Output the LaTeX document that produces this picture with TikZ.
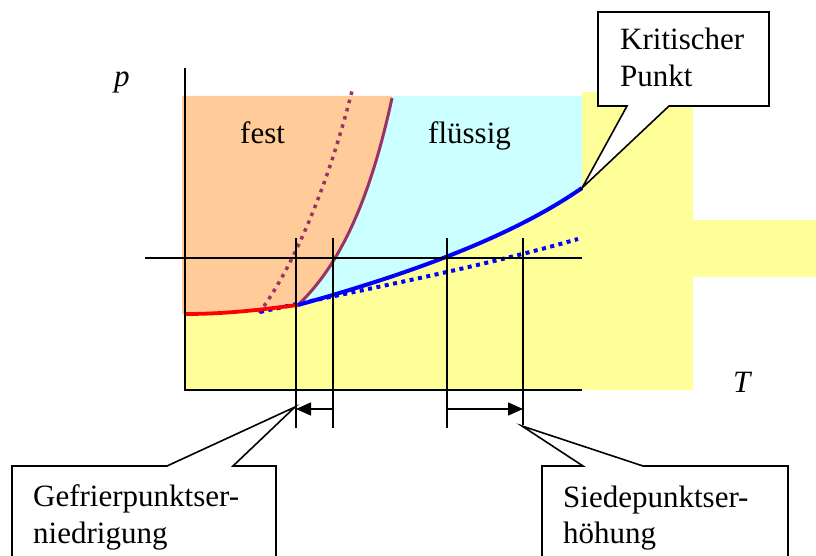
\documentclass[tikz,border=0pt]{standalone}
\usepackage{fontspec}
\setmainfont{Liberation Serif}
\usetikzlibrary{arrows.meta}
\definecolor{festc}{HTML}{FFCC99}
\definecolor{flc}{HTML}{CCFFFF}
\definecolor{gasc}{HTML}{FFFF99}
\definecolor{plum}{HTML}{993366}
\begin{document}
\begin{tikzpicture}[x=1pt,y=-1pt,
  txt/.style={inner sep=0pt,anchor=base west,font=\fontsize{31}{37}\selectfont},
  axis/.style={line width=1.8pt},
  thin/.style={line width=1.6pt},
  callout/.style={line width=1.6pt,fill=white,line join=miter},
  arr/.style={line width=1.6pt,-{Triangle[length=15pt,width=13pt]}},
  redc/.style={line width=3.8pt,red},
  bluec/.style={line width=4pt,blue},
  bluedot/.style={line width=4pt,blue,dash pattern=on 4pt off 4.5pt},
  plumc/.style={line width=3pt,plum},
  plumdot/.style={line width=3.5pt,plum,dash pattern=on 3.5pt off 5pt}]
\useasboundingbox (0,0) rectangle (816,556);
% key points
\coordinate (o) at (185,390);
\coordinate (ytop) at (185,68);
\coordinate (xend) at (582,390);
\coordinate (tp) at (298,305);
\coordinate (cp) at (582,188);
\coordinate (rs) at (185,314);
\coordinate (mt) at (392,98);
% regions
\fill[gasc] (582,92) rectangle (693,390);
\fill[gasc] (185,180) rectangle (582,390);
\fill[gasc] (693,220) rectangle (816,277);
\fill[festc] (182,96) -- (392,96) -- (mt) .. controls (370,200) and (340,265) .. (tp)
  .. controls (265,309) and (230,314) .. (rs) -- (182,314) -- cycle;
\fill[flc] (392,96) -- (582,96) -- (cp) .. controls (500,245) and (380,282) .. (tp)
  .. controls (340,265) and (370,200) .. (mt) -- cycle;
% dotted curves (solution)
\draw[plumdot] (259,313) .. controls (295,265) and (330,180) .. (353,87);
\draw[bluedot] (260,312) .. controls (350,292) and (470,270) .. (578,239);
% phase boundaries
\draw[redc] (rs) .. controls (230,314) and (265,309) .. (tp);
\draw[plumc] (tp) .. controls (340,265) and (370,200) .. (mt);
\draw[bluec] (tp) .. controls (380,282) and (500,245) .. (cp);
% axes
\draw[axis] (ytop) -- (o) -- (xend);
\node[txt,font=\fontsize{31}{37}\selectfont\itshape] (pl) at (114,87) {p};
\node[txt,font=\fontsize{31}{37}\selectfont\itshape] (tl) at (733,392) {T};
% reference lines
\coordinate (h1) at (145,258);
\coordinate (h2) at (582,258);
\draw[thin] (h1) -- (h2);
\foreach \x/\b in {296/428,333/428,447/428,523/425}{
  \coordinate (vt\x) at (\x,238);
  \coordinate (vb\x) at (\x,\b);
  \draw[thin] (vt\x) -- (vb\x);
}
% arrows
\coordinate (ga) at (333,409);
\coordinate (gb) at (296,409);
\coordinate (sa) at (447,409);
\coordinate (sb) at (523,409);
\draw[arr] (ga) -- (gb);
\draw[arr] (sa) -- (sb);
% labels
\node[txt] (fest) at (240,144) {fest};
\node[txt] (fl) at (428,144) {flüssig};
% callout: Kritischer Punkt
\draw[callout] (598,12) -- (769,12) -- (769,106) -- (669,106) -- (cp) -- (627,106) -- (598,106) -- cycle;
\node[txt] (k1) at (620,50) {Kritischer};
\node[txt] (k2) at (620,87) {Punkt};
% callout: Gefrierpunktserniedrigung
\coordinate (gt) at (295,407);
\draw[callout] (12,466) -- (167,466) -- (gt) -- (233,466) -- (276,466) -- (276,575) -- (12,575) -- cycle;
\node[txt] (g1) at (33,506) {Gefrierpunktser-};
\node[txt] (g2) at (33,543) {niedrigung};
% callout: Siedepunktserhoehung
\coordinate (st) at (522,426);
\draw[callout] (542,466) -- (583,466) -- (st) -- (643,466) -- (788,466) -- (788,575) -- (542,575) -- cycle;
\node[txt] (s1) at (563,507) {Siedepunktser-};
\node[txt] (s2) at (563,543) {höhung};
\end{tikzpicture}
\end{document}
